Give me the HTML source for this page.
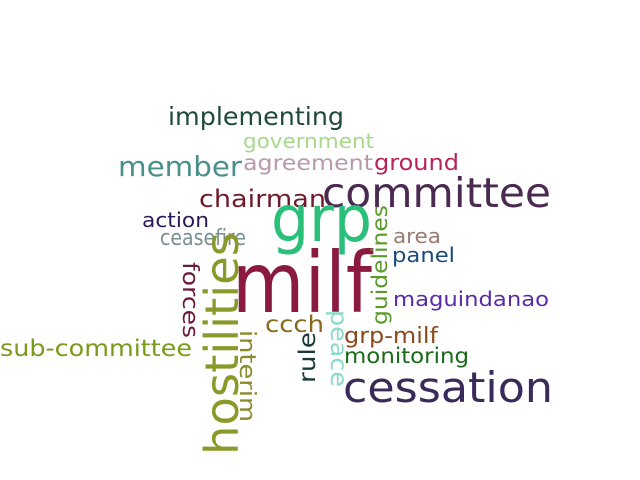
<!DOCTYPE html>
<html><head><meta charset="utf-8"><style>
html,body{margin:0;padding:0;background:#fff;}
svg{display:block;font-family:"DejaVu Sans","Liberation Sans",sans-serif;}
</style></head><body>
<svg width="640" height="480" viewBox="0 0 640 480">
<g id="words"></g>
</svg>
<script>
const words = ["implementing","government","member","agreement","ground","chairman","committee","action","grp","ceasefire","area","panel","milf","maguindanao","sub-committee","ccch","grp-milf","monitoring","cessation","forces","hostilities","interim","rule","peace","guidelines"];
const sizes = [25,20,28,21,22,24,41,20,64,22,20,20,84,20,23,23,22,21,42,22,46,22,23,23,21];
const colors = ["#1f4a3a","#a8d88a","#4a8f8a","#b89aa8","#b8245a","#6e1a2a","#4a2a50","#2a1a5a","#2ac07a","#7a9090","#9a7a70","#1a4a7a","#8a1a40","#5a2aa8","#7a9a1a","#8a6a1a","#8a4a1a","#1a6a1a","#3a2a5a","#6a1a3a","#8a9a2a","#8a8a2a","#1a3a3a","#8adac8","#5a9a2a"];
// [x, y, length, rotation]
const boxes = [[168,125,176,0],[243,148,131,0],[118,176,124,0],[243,170,130,0],[374,170,85,0],[199,207,127,0],[322,207,229,0],[142,227,67,0],[271,241,101,0],[160,245,86,0],[393,243,48,0],[392,262,63,0],[232,312,140,0],[393,306,156,0],[0,356,192,0],[265,332,59,0],[344,343,94,0],[344,363,125,0],[343,402,210,0],[183,262,76,90],[238,455,223,-90],[240,330,92,90],[315,383,51,-90],[331,310,77,90],[387,325,120,-90]];
const g = document.getElementById('words');
words.forEach((w,i)=>{
  const t = document.createElementNS('http://www.w3.org/2000/svg','text');
  const [x,y,len,rot] = boxes[i];
  t.setAttribute('x', x); t.setAttribute('y', y);
  t.setAttribute('font-size', sizes[i]);
  t.setAttribute('fill', colors[i]);
  t.setAttribute('textLength', len);
  t.setAttribute('lengthAdjust', 'spacingAndGlyphs');
  if (rot) t.setAttribute('transform', `rotate(${rot} ${x} ${y})`);
  t.textContent = w;
  
  
  g.appendChild(t);
});
</script>
</body></html>
